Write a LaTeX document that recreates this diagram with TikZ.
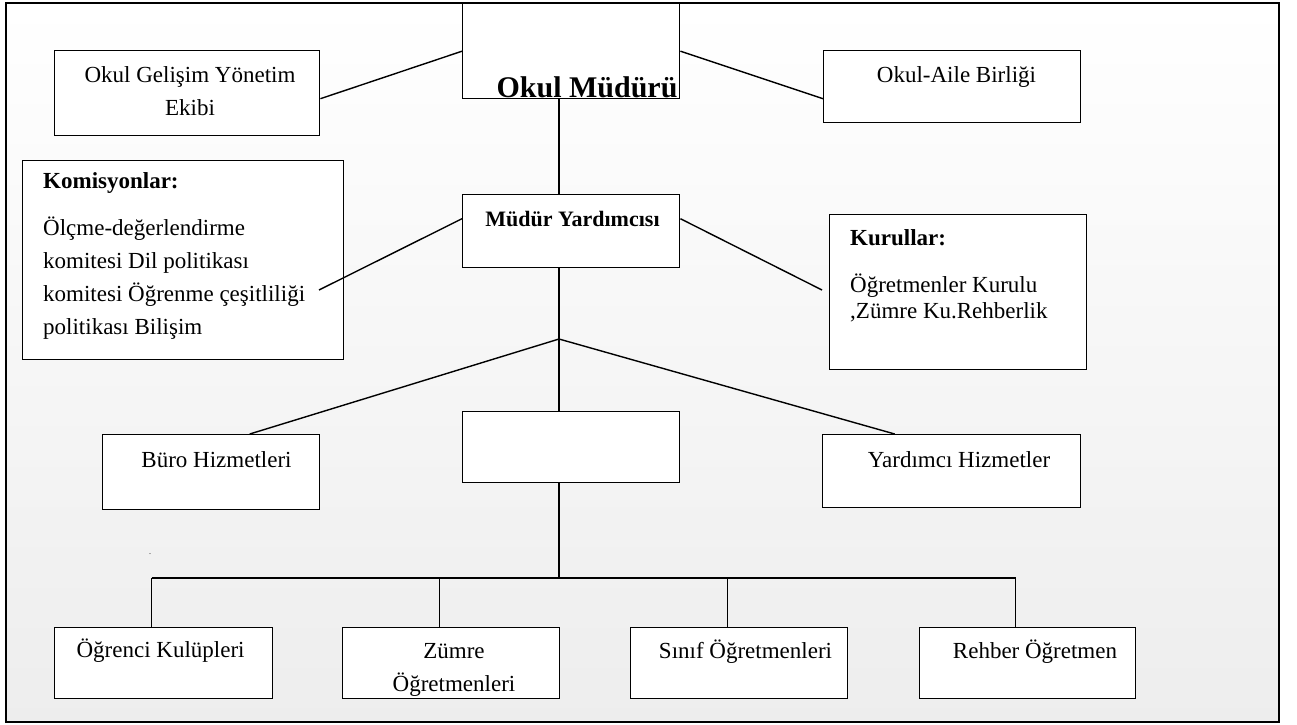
\documentclass[tikz,border=0pt]{standalone}
\usepackage{fontspec}
\setmainfont{Liberation Serif}

\begin{document}
\begin{tikzpicture}[x=1pt, y=-1pt,
    box/.style={draw, fill=white, line width=1.4pt, inner sep=0pt, anchor=north west},
    link/.style={line width=1.4pt},
    txt/.style={inner sep=0pt, font=\fontsize{23}{33}\selectfont},
    hdr/.style={inner sep=0pt, font=\fontsize{23}{28}\selectfont\bfseries}]

\useasboundingbox (0,0) rectangle (1297,724);

% Background and frame
\shade[top color=white, bottom color=black!7] (6,3) rectangle (1279,722);
\draw[line width=2.6pt] (6,3) rectangle (1279,722);

% Top row
\node[box, minimum width=217pt, minimum height=95pt] (om) at (462,3) {};
\node[box, minimum width=265pt, minimum height=85pt] (ogye) at (54,50) {};
\node[box, minimum width=257pt, minimum height=72pt] (oab) at (823,50) {};

% Middle row
\node[box, minimum width=321pt, minimum height=199pt] (kom) at (22,160) {};
\node[box, minimum width=217pt, minimum height=73pt] (my) at (462,194) {};
\node[box, minimum width=257pt, minimum height=155pt] (kur) at (829,214) {};

% Services
\node[box, minimum width=217pt, minimum height=75pt] (buro) at (102,434) {};
\node[box, minimum width=217pt, minimum height=71pt] (cb) at (462,411) {};
\node[box, minimum width=258pt, minimum height=73pt] (yard) at (822,434) {};

% Bottom row
\node[box, minimum width=218pt, minimum height=71pt] (ogr) at (54,627) {};
\node[box, minimum width=217pt, minimum height=71pt] (zum) at (342,627) {};
\node[box, minimum width=217pt, minimum height=71pt] (sin) at (630,627) {};
\node[box, minimum width=216pt, minimum height=71pt] (reh) at (919,627) {};

% Connector points
\coordinate (apex) at (559,339);
\coordinate (bus) at (559,578);
\coordinate (komtip) at (319,290);
\coordinate (kurtip) at (822,290);

% Connectors
\draw[link] ([yshift=-5.5pt]ogye.east) -- (om.west);
\draw[link] (om.east) -- ([yshift=-12pt]oab.west);
\draw[link] (om.south -| apex) -- (my.north -| apex);
\draw[link] ([yshift=12.5pt]my.west) -- (komtip);
\draw[link] ([yshift=12.5pt]my.east) -- (kurtip);
\draw[link] (my.south -| apex) -- (cb.north -| apex);
\draw[link] ([xshift=38.5pt]buro.north) -- (apex) -- ([xshift=-57pt]yard.north);
\draw[link] (cb.south -| apex) -- (bus);
\draw[link] ([xshift=-12pt]ogr.north |- bus) -- ([xshift=-12pt]reh.north |- bus);
\foreach \n in {ogr,zum,sin,reh}
  \draw[link] ([xshift=-12pt]\n.north) -- ([xshift=-12pt]\n.north |- bus);

% Texts (multi-line nodes sit on their last line)
\node[txt, font=\fontsize{30}{36}\selectfont\bfseries, anchor=base] (omtxt) at (587,97) {Okul Müdürü};
\node[txt, align=center, anchor=base] (ogyetxt) at (190,115) {Okul Gelişim Yönetim\\Ekibi};
\node[txt, anchor=base] (oabtxt) at (956.5,82) {Okul-Aile Birliği};
\node[hdr, anchor=base west] (komhdr) at (43,188) {Komisyonlar:};
\node[txt, align=left, anchor=base west] (komtxt) at (43,334) {Ölçme-değerlendirme\\komitesi Dil politikası\\komitesi Öğrenme çeşitliliği\\politikası Bilişim};
\node[hdr, font=\fontsize{22}{28}\selectfont\bfseries, anchor=base] (mytxt) at (572.5,226) {Müdür Yardımcısı};
\node[hdr, anchor=base west] (kurhdr) at (850,245) {Kurullar:};
\node[txt, font=\fontsize{23}{26.5}\selectfont, align=left, anchor=base west] (kurtxt) at (850,318.5) {Öğretmenler Kurulu\\,Zümre Ku.Rehberlik};
\node[txt, anchor=base] (burotxt) at (216.5,467) {Büro Hizmetleri};
\node[txt, anchor=base] (yardtxt) at (959,467) {Yardımcı Hizmetler};
\node[txt, anchor=base] (ogrtxt) at (160.6,657) {Öğrenci Kulüpleri};
\node[txt, align=center, anchor=base] (zumtxt) at (454,691) {Zümre\\Öğretmenleri};
\node[txt, anchor=base] (sintxt) at (745.5,658) {Sınıf Öğretmenleri};
\node[txt, anchor=base] (rehtxt) at (1035,658) {Rehber Öğretmen};
\node[inner sep=0pt, font=\fontsize{8}{8}\selectfont, anchor=base] (dot) at (150,554) {.};
\end{tikzpicture}
\end{document}
